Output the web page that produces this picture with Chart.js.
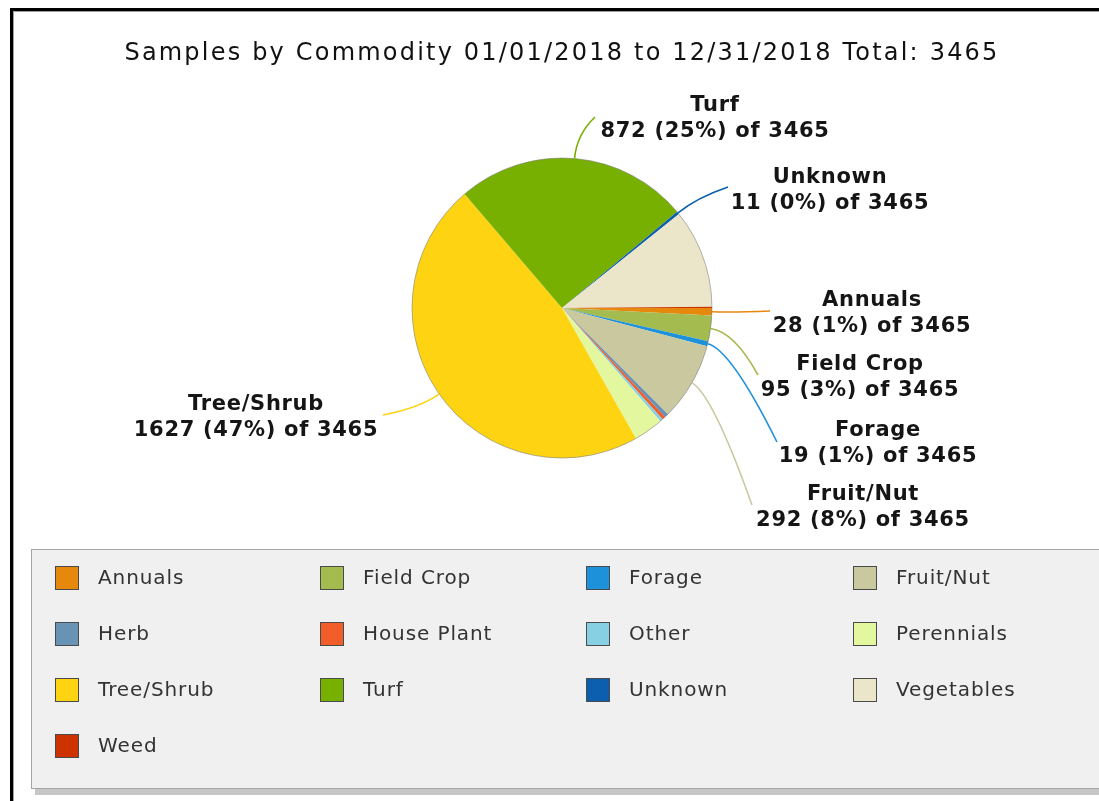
<!DOCTYPE html>
<html>
<head>
<meta charset="utf-8">
<script src="https://cdn.jsdelivr.net/npm/chart.js@4.4.1/dist/chart.umd.min.js"></script>
<style>
  html, body { margin: 0; padding: 0; background: #fff; }
  #wrap { width: 1099px; height: 801px; }
</style>
</head>
<body>
<div id="wrap"><canvas id="myChart" width="1099" height="801"></canvas></div>
<script>
// data
const categories = ['Annuals', 'Field Crop', 'Forage', 'Fruit/Nut', 'Herb', 'House Plant', 'Other',
    'Perennials', 'Tree/Shrub', 'Turf', 'Unknown', 'Vegetables', 'Weed'];
const counts = [28, 95, 19, 292, 14, 13, 11, 110, 1627, 872, 11, 368, 5];
const colors = ['#e6880c', '#a3bb4f', '#1d91d9', '#cac89f', '#6893b5', '#f15e29', '#87d0e3',
    '#e3f89e', '#fed312', '#77b000', '#0b5fae', '#ebe6c9', '#cc3300'];
const total = 3465;
const titleText = 'Samples by Commodity 01/01/2018 to 12/31/2018 Total: 3465';
// slices that get a label
const labeled = ['Turf', 'Unknown', 'Annuals', 'Field Crop', 'Forage', 'Fruit/Nut', 'Tree/Shrub'];

// label text centre (first line) and where its leader line ends
const labelSpots = {
    'Turf':       { x: 715, y: 106, lx: 595, ly: 117 },
    'Unknown':    { x: 830, y: 178, lx: 728, ly: 187 },
    'Annuals':    { x: 872, y: 301, lx: 770, ly: 311 },
    'Field Crop': { x: 860, y: 365, lx: 758, ly: 375 },
    'Forage':     { x: 878, y: 431, lx: 777, ly: 442 },
    'Fruit/Nut':  { x: 863, y: 495, lx: 752, ly: 505 },
    'Tree/Shrub': { x: 256, y: 405, lx: 383, ly: 415 }
};

// legend grid
const legendCols = [55, 320, 586, 853];
const legendRows = [578, 634, 690, 746];

function spacing(ctx, px) {
    if ('letterSpacing' in ctx) ctx.letterSpacing = px + 'px';
}

const decor = {
    id: 'decor',
    beforeDraw(chart) {
        const ctx = chart.ctx;
        const W = chart.width, H = chart.height;
        ctx.save();
        ctx.fillStyle = '#fff';
        ctx.fillRect(0, 0, W, H);
        // panel frame
        ctx.fillStyle = '#000';
        ctx.fillRect(10, 8, W, 3);
        ctx.fillRect(10, 8, 3, H);
        ctx.fillStyle = '#a0a0a0';
        ctx.fillRect(13, 11, W, 1);
        ctx.fillRect(13, 11, 1, H);
        // title
        ctx.fillStyle = '#111';
        ctx.font = '24px "DejaVu Sans"';
        ctx.textAlign = 'center';
        ctx.textBaseline = 'middle';
        spacing(ctx, 2.2);
        ctx.fillText(titleText, 562, 54);
        spacing(ctx, 0);
        // legend box with shadow
        ctx.fillStyle = '#c6c6c6';
        ctx.fillRect(35, 553, W, 242);
        ctx.fillStyle = '#f0f0f0';
        ctx.fillRect(31, 549, W, 240);
        ctx.strokeStyle = '#a4a4a4';
        ctx.lineWidth = 1;
        ctx.strokeRect(31.5, 549.5, W, 239);
        ctx.restore();
    },
    afterDatasetsDraw(chart) {
        const ctx = chart.ctx;
        const meta = chart.getDatasetMeta(0);
        const first = meta.data[0];
        ctx.save();
        // pie rim
        ctx.beginPath();
        ctx.arc(first.x, first.y, first.outerRadius, 0, Math.PI * 2);
        ctx.strokeStyle = 'rgba(120,120,120,0.55)';
        ctx.lineWidth = 1;
        ctx.stroke();

        // slice labels with curved leader lines
        labeled.forEach(name => {
            const i = categories.indexOf(name);
            const arc = meta.data[i];
            const mid = (arc.startAngle + arc.endAngle) / 2;
            const r = arc.outerRadius;
            const sx = arc.x + Math.cos(mid) * r, sy = arc.y + Math.sin(mid) * r;
            const cx = arc.x + Math.cos(mid) * (r + 24), cy = arc.y + Math.sin(mid) * (r + 24);
            const spot = labelSpots[name];
            ctx.beginPath();
            ctx.moveTo(sx, sy);
            ctx.quadraticCurveTo(cx, cy, spot.lx, spot.ly);
            ctx.strokeStyle = colors[i];
            ctx.lineWidth = 1.6;
            ctx.stroke();

            const pct = Math.round(counts[i] / total * 100);
            ctx.fillStyle = '#151515';
            ctx.font = 'bold 21px "DejaVu Sans"';
            ctx.textAlign = 'center';
            ctx.textBaseline = 'middle';
            spacing(ctx, 0.7);
            ctx.fillText(name, spot.x, spot.y);
            ctx.fillText(`${counts[i]} (${pct}%) of ${total}`, spot.x, spot.y + 25.5);
            spacing(ctx, 0);
        });

        // legend items
        ctx.font = '20px "DejaVu Sans"';
        ctx.textAlign = 'left';
        ctx.textBaseline = 'middle';
        categories.forEach((name, i) => {
            const x = legendCols[i % 4];
            const y = legendRows[Math.floor(i / 4)];
            ctx.fillStyle = colors[i];
            ctx.fillRect(x, y - 12, 24, 24);
            ctx.strokeStyle = '#4a4a4a';
            ctx.lineWidth = 1;
            ctx.strokeRect(x + 0.5, y - 11.5, 23, 23);
            ctx.fillStyle = '#333';
            spacing(ctx, 0.9);
            ctx.fillText(name, x + 43, y + 1);
            spacing(ctx, 0);
        });
        ctx.restore();
    }
};

const ctx = document.getElementById('myChart').getContext('2d');
const myChart = new Chart(ctx, {
    type: 'pie',
    data: {
        labels: categories,
        datasets: [{
            data: counts,
            backgroundColor: colors,
            borderWidth: 0
        }]
    },
    options: {
        responsive: false,
        animation: false,
        events: [],
        rotation: 90,
        layout: {
            padding: { left: 412, right: 387, top: 158, bottom: 343 }
        },
        plugins: {
            legend: { display: false },
            tooltip: { enabled: false },
            title: { display: false }
        }
    },
    plugins: [decor]
});
</script>
</body>
</html>
